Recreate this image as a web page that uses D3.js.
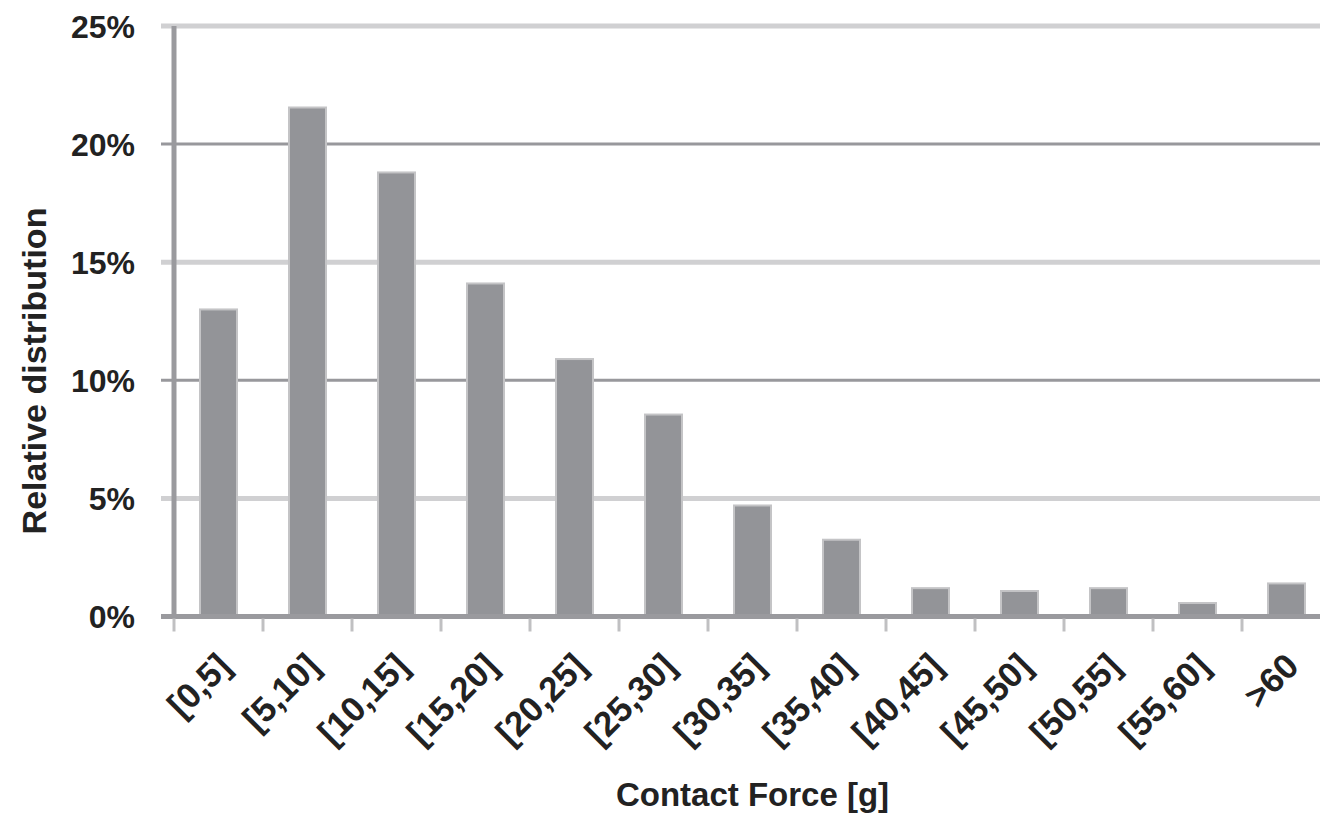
<!DOCTYPE html>
<html>
<head>
<meta charset="utf-8">
<script src="https://cdn.jsdelivr.net/npm/d3@7"></script>
<style>
  html, body { margin: 0; padding: 0; background: #fff; }
  svg { display: block; }
</style>
</head>
<body>
<svg id="chart" width="1320" height="813"></svg>
<script>
// Contact force histogram: share of samples in each 5 g bin
const categories = ["[0,5]", "[5,10]", "[10,15]", "[15,20]", "[20,25]", "[25,30]", "[30,35]",
                    "[35,40]", "[40,45]", "[45,50]", "[50,55]", "[55,60]", ">60"];
const shares = [13.0, 21.55, 18.8, 14.1, 10.9, 8.55, 4.7, 3.25, 1.2, 1.08, 1.2, 0.57, 1.4];
const yTicks = [0, 5, 10, 15, 20, 25];

const svg = d3.select("#chart");
const W = 1320;
const plot = { left: 174, right: 1331, top: 26, bottom: 616.5 };

const x = d3.scaleBand().domain(categories).range([plot.left, plot.right]).paddingInner(0).paddingOuter(0);
const y = d3.scaleLinear().domain([0, 25]).range([plot.bottom, plot.top]);

const font = "'Liberation Sans', Arial, sans-serif";
const textColor = "#222";

// horizontal gridlines (with short ticks left of the axis)
svg.append("g").selectAll("line").data(yTicks.filter(d => d > 0)).join("line")
  .attr("x1", plot.left - 13).attr("x2", W)
  .attr("y1", d => y(d)).attr("y2", d => y(d))
  .attr("stroke", d => (d / 5) % 2 === 0 ? "#98989c" : "#d0d0d2")
  .attr("stroke-width", d => (d / 5) % 2 === 0 ? 3 : 5);

// bars
const barW = 37;
const barOffset = 26;
svg.append("g").selectAll("rect").data(categories).join("rect")
  .attr("x", d => x(d) + barOffset)
  .attr("width", barW)
  .attr("y", (d, i) => y(shares[i]))
  .attr("height", (d, i) => y(0) - y(shares[i]))
  .attr("fill", "#939498")
  .attr("stroke", "#c4c4c6")
  .attr("stroke-width", 2);

// y axis line
svg.append("line")
  .attr("x1", plot.left).attr("x2", plot.left)
  .attr("y1", plot.top).attr("y2", plot.bottom + 2)
  .attr("stroke", "#9a9a9e").attr("stroke-width", 5);

// x axis line
svg.append("line")
  .attr("x1", plot.left - 13).attr("x2", W)
  .attr("y1", plot.bottom).attr("y2", plot.bottom)
  .attr("stroke", "#9a9a9e").attr("stroke-width", 5);

// x tick marks at band boundaries
const boundaries = categories.map(c => x(c));
svg.append("g").selectAll("line").data(boundaries).join("line")
  .attr("x1", d => d).attr("x2", d => d)
  .attr("y1", plot.bottom + 2).attr("y2", plot.bottom + 15)
  .attr("stroke", "#c0c0c2").attr("stroke-width", 3);

// y tick labels
svg.append("g").selectAll("text").data(yTicks).join("text")
  .attr("x", 135).attr("y", d => y(d))
  .attr("dy", "0.36em")
  .attr("text-anchor", "end")
  .attr("font-family", font).attr("font-weight", "bold").attr("font-size", 32)
  .attr("fill", textColor)
  .text(d => d + "%");

// x tick labels, rotated
svg.append("g").selectAll("text").data(categories).join("text")
  .attr("transform", d => `translate(${x(d) + x.bandwidth() / 2 - 3},${651}) rotate(-45)`)
  .attr("text-anchor", "end")
  .attr("dy", "0.7em")
  .attr("font-family", font).attr("font-weight", "bold").attr("font-size", 35)
  .attr("fill", textColor)
  .text(d => d);

// axis titles
svg.append("text")
  .attr("x", (plot.left + plot.right) / 2).attr("y", 806)
  .attr("text-anchor", "middle")
  .attr("font-family", font).attr("font-weight", "bold").attr("font-size", 33)
  .attr("fill", textColor)
  .text("Contact Force [g]");

svg.append("text")
  .attr("transform", `translate(46,${(205 + 537) / 2}) rotate(-90)`)
  .attr("text-anchor", "middle")
  .attr("font-family", font).attr("font-weight", "bold").attr("font-size", 34)
  .attr("fill", textColor)
  .text("Relative distribution");
</script>
</body>
</html>
